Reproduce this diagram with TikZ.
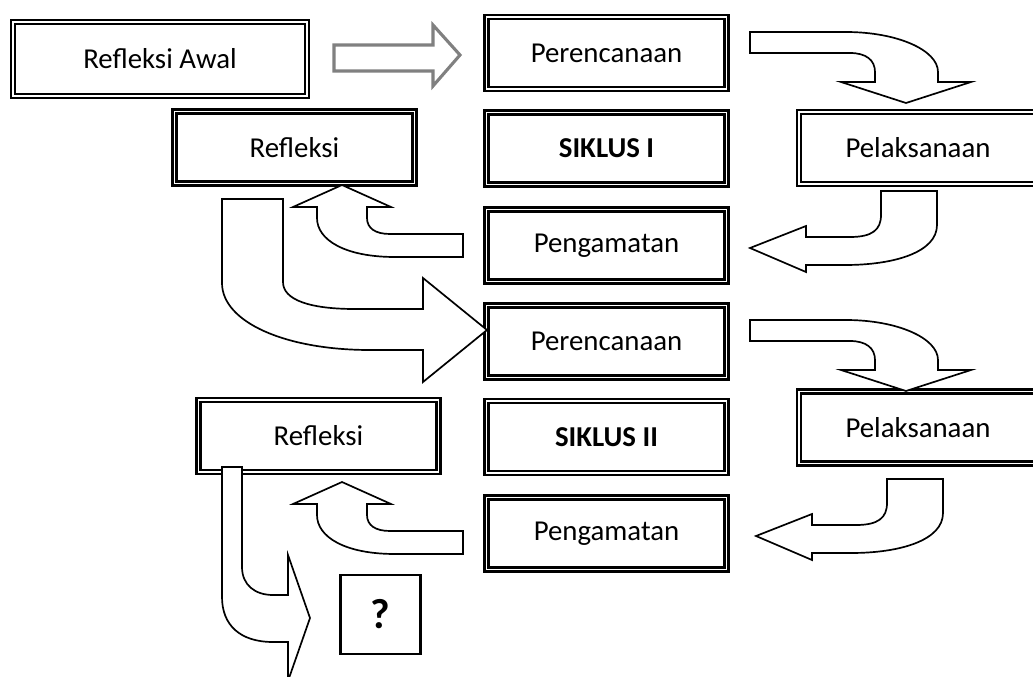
\documentclass[tikz,border=0pt]{standalone}
\usepackage{fontspec}
\setmainfont{Carlito}
\usepackage{tikz}
\tikzset{
  box/.style={draw, double, line width=1.7pt, double distance=1.2pt, minimum width=6cm, minimum height=1.8cm, inner sep=0pt},
  bigarrow/.style={draw, fill=white, line width=1.2pt, line join=miter},
}

\begin{document}
\begin{tikzpicture}[x=0.025cm, y=-0.025cm, font=\fontsize{20.5}{24}\selectfont]
  \useasboundingbox (0,0) rectangle (1033,677);
  \clip (0,0) rectangle (1033,677);
  \node[box, minimum width=7.34cm, minimum height=1.84cm] (awal) at (160,59) {Refleksi Awal};
  \node[box] (ren1) at (606.5,53) {Perencanaan};
  \node[box] (sik1) at (606.5,148.5) {\textbf{SIKLUS I}};
  \node[box, minimum width=5.95cm] (pel1) at (918,148) {Pelaksanaan};
  \node[box] (ref1) at (294.5,147.5) {Refleksi};
  \node[box] (pen1) at (606.5,245.5) {Pengamatan};
  \node[box] (ren2) at (606.5,341.5) {Perencanaan};
  \node[box] (sik2) at (606.5,437) {\textbf{SIKLUS II}};
  \node[box, minimum width=5.95cm] (pel2) at (918,427.5) {Pelaksanaan};
  \node[box] (pen2) at (606.5,533.5) {Pengamatan};
  \node[box] (ref2) at (318.5,436) {Refleksi};
  \node[draw, line width=1.5pt, minimum width=2cm, minimum height=1.975cm, font=\fontsize{30}{34}\selectfont\bfseries] (tanya) at (380.5,614.5) {?};
  \draw[bigarrow, draw=black!50, line width=2.2pt] (334,45) -- (433,45) -- (433,25) -- (460,55) -- (433,86) -- (433,71) -- (334,71) -- cycle;
  \draw[bigarrow] (750,32) -- (846,32) .. controls (897,32) and (938,50) .. (938,72) -- (938,82) -- (971,82) -- (906,103) -- (841,82) -- (875,82) -- (875,72) .. controls (875,60) and (866,53) .. (850,53) -- (750,53) -- cycle;
  \draw[bigarrow] (881,191) -- (937,191) -- (937,225) .. controls (937,252) and (895,265) .. (845,265) -- (806,265) -- (806,272) -- (750,248) -- (806,226) -- (806,237) -- (850,237) .. controls (872,237) and (881,230) .. (881,215) -- cycle;
  \draw[bigarrow] (463,234) -- (463,257) -- (395,257) .. controls (345,257) and (317,240) .. (317,218) -- (317,207) -- (293,207) -- (342,185) -- (391,207) -- (367,207) -- (367,218) .. controls (367,228) and (375,234) .. (390,234) -- cycle;
  \draw[bigarrow] (222,199) -- (283,199) -- (283,282) .. controls (283,300) and (310,309) .. (355,309) -- (423,309) -- (423,278) -- (487,330) -- (423,382) -- (423,350) -- (370,350) .. controls (285,350) and (222,322) .. (222,283) -- cycle;
  \draw[bigarrow] (750,320) -- (846,320) .. controls (897,320) and (938,338) .. (938,360) -- (938,370) -- (971,370) -- (906,391) -- (841,370) -- (875,370) -- (875,360) .. controls (875,348) and (866,341) .. (850,341) -- (750,341) -- cycle;
  \draw[bigarrow] (887,479) -- (943,479) -- (943,513) .. controls (943,540) and (901,553) .. (851,553) -- (812,553) -- (812,560) -- (756,536) -- (812,514) -- (812,525) -- (856,525) .. controls (878,525) and (887,518) .. (887,503) -- cycle;
  \draw[bigarrow] (463,531) -- (463,554) -- (395,554) .. controls (345,554) and (317,537) .. (317,515) -- (317,504) -- (293,504) -- (342,482) -- (391,504) -- (367,504) -- (367,515) .. controls (367,525) and (375,531) .. (390,531) -- cycle;
  \draw[bigarrow] (222,467) -- (242,467) -- (242,567) .. controls (242,585) and (255,595) .. (273,595) -- (288,595) -- (288,555) -- (310,618) -- (288,681) -- (288,642) -- (273,642) .. controls (240,642) and (222,625) .. (222,597) -- cycle;
\end{tikzpicture}
\end{document}
